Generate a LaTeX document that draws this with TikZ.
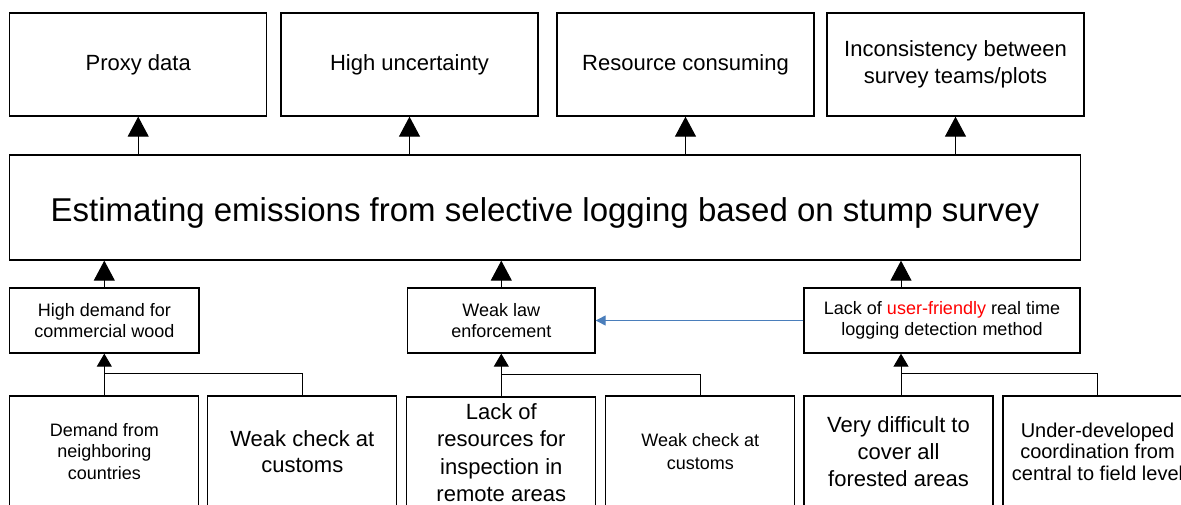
\documentclass[tikz,border=0pt]{standalone}
\usepackage{fontspec}
\setmainfont{Liberation Sans}
\usetikzlibrary{arrows.meta}
\definecolor{linkblue}{RGB}{74,126,187}
\definecolor{hot}{RGB}{255,0,0}
\newcommand{\fs}[2]{\fontsize{#1}{#2}\selectfont}
\tikzset{
  box/.style={draw=black, line width=1.3pt, rectangle, inner sep=0pt, align=center, anchor=center},
  topbox/.style={box, minimum width=257pt, minimum height=103pt, font=\fs{22}{26.7}},
  midbox/.style={box, minimum height=65pt, font=\fs{18}{21.5}},
  lowbox/.style={box, minimum width=189pt, minimum height=111pt},
  bigarrow/.style={line width=1pt, -{Triangle[width=21pt,length=20pt]}},
  smallarrow/.style={line width=1pt, -{Triangle[width=15pt,length=13pt]}},
  joinline/.style={line width=1pt},
  sidearrow/.style={draw=linkblue, line width=1pt, -{Triangle[width=10pt,length=10pt]}}
}
\begin{document}
\begin{tikzpicture}[x=1pt, y=-1pt]
\useasboundingbox (0,0) rectangle (1181,504);
\clip (0,0) rectangle (1181,504);

% consequences
\node[topbox] (t1) at (138.2,64.5) {Proxy data};
\node[topbox] (t2) at (409.5,64.5) {High uncertainty};
\node[topbox] (t3) at (685.5,64.5) {Resource consuming};
\node[topbox] (t4) at (955.5,64.5) {Inconsistency between\\survey teams/plots};

% core problem
\node[box, minimum width=1070.5pt, minimum height=105pt, font=\fs{33}{38},
      text height=34pt, text depth=7pt] (core) at (545,207.5)
  {Estimating emissions from selective logging based on stump survey};

% direct causes
\node[midbox, minimum width=189.4pt] (ca) at (104.3,320.5) {High demand for\\commercial wood};
\node[midbox, minimum width=187.4pt] (cb) at (501.3,320.5) {Weak law\\enforcement};
\node[midbox, minimum width=276pt] (cc) at (942,320.5) {Lack of \textcolor{hot}{user-friendly} real time\\logging detection method};

% root causes
\node[lowbox, font=\fs{18}{21.7}] (b1) at (104.3,451.5) {Demand from\\neighboring\\countries};
\node[lowbox, font=\fs{22}{26.7}] (b2) at (302.3,451.5) {Weak check at\\customs};
\node[lowbox, font=\fs{22}{27.3}] (b3) at (501.3,452.5) {Lack of\\resources for\\inspection in\\remote areas};
\node[lowbox, font=\fs{18}{22.7}] (b4) at (700.3,451.5) {Weak check at\\customs};
\node[lowbox, font=\fs{22}{27.3}] (b5) at (898.5,451.5) {Very difficult to\\cover all\\forested areas};
\node[lowbox, font=\fs{20}{21.5}] (b6) at (1097.5,451.5) {Under-developed\\coordination from\\central to field level};

% core problem -> consequences
\draw[bigarrow] (t1.south |- core.north) -- (t1.south);
\draw[bigarrow] (t2.south |- core.north) -- (t2.south);
\draw[bigarrow] (t3.south |- core.north) -- (t3.south);
\draw[bigarrow] (t4.south |- core.north) -- (t4.south);

% direct causes -> core problem
\draw[bigarrow] (ca.north) -- (ca.north |- core.south);
\draw[bigarrow] (cb.north) -- (cb.north |- core.south);
\draw[bigarrow] ([xshift=2.5pt]b5.north |- cc.north) -- ([xshift=2.5pt]b5.north |- core.south);

% root causes -> direct causes
\draw[smallarrow] ([xshift=2.5pt]b5.north) -- ([xshift=2.5pt]b5.north |- cc.south);
\draw[smallarrow] (b1.north) -- (b1.north |- ca.south);
\draw[joinline] (b2.north) |- ([yshift=22pt]b1.north);
\draw[smallarrow] (b3.north) -- (b3.north |- cb.south);
\draw[joinline] (b4.north) |- ([yshift=22pt]b3.north);
\draw[joinline] (b6.north) |- ([xshift=2.5pt,yshift=22pt]b5.north);

% cross link
\draw[sidearrow] (cc.west) -- (cb.east);
\end{tikzpicture}
\end{document}
